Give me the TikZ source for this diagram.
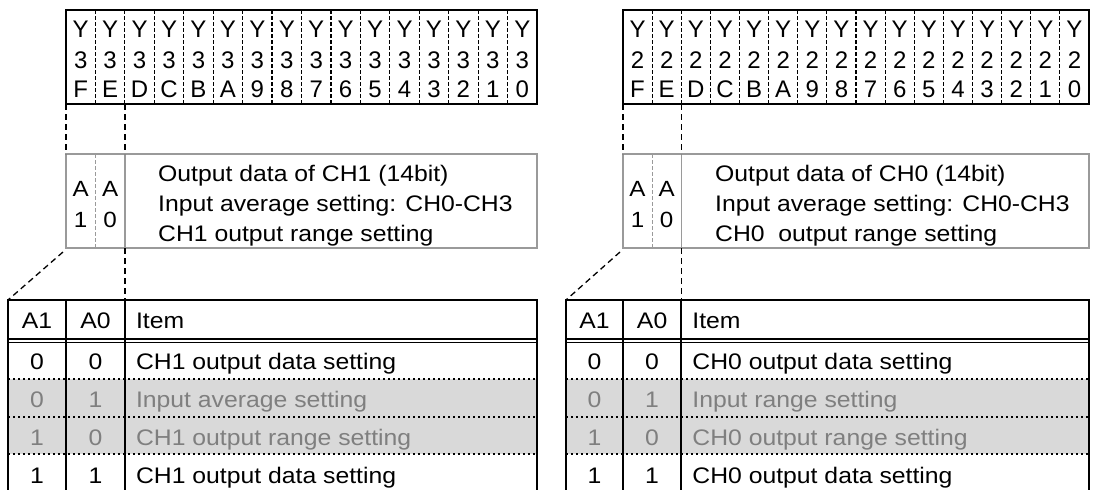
\documentclass[tikz,border=0pt]{standalone}
\usepackage{fontspec}
\setmainfont{Liberation Sans}
\newfontfamily\widefont[FakeStretch=1.1]{Liberation Sans}
\usetikzlibrary{calc}
\definecolor{boxgray}{HTML}{9A9A9A}
\definecolor{rowgray}{HTML}{D9D9D9}
\definecolor{txtgray}{HTML}{7F7F7F}
\tikzset{
  topbox/.style={draw=black, line width=1.8pt, inner sep=0pt, outer sep=0pt},
  midbox/.style={draw=boxgray, line width=1.8pt, inner sep=0pt, outer sep=0pt},
  tabframe/.style={inner sep=0pt, outer sep=0pt},
  tabline/.style={draw=black, line width=1.6pt},
  dotline/.style={draw=black, line width=1.5pt, dash pattern=on 1.5pt off 3.5pt},
  conn/.style={draw=black, line width=1.3pt, dash pattern=on 6pt off 4pt},
  bitsep/.style={draw=black, line width=1.2pt, dash pattern=on 3.5pt off 2.5pt},
  midsep/.style={draw=boxgray, line width=1.2pt, dash pattern=on 3.5pt off 2.5pt},
  bittxt/.style={inner sep=0pt, anchor=base, font=\fontsize{24}{28}\selectfont},
  atxt/.style={inner sep=0pt, anchor=base, font=\widefont\fontsize{22}{26}\selectfont},
  midtxt/.style={inner sep=0pt, anchor=base west, font=\widefont\fontsize{22.5}{27}\selectfont},
  celltxt/.style={inner sep=0pt, anchor=base, font=\widefont\fontsize{22.5}{27}\selectfont},
  itemtxt/.style={inner sep=0pt, anchor=base west, font=\widefont\fontsize{22.5}{27}\selectfont},
}
% #1 prefix, #2 top-left x, #3 right x, #4 table left x, #5 digit, #6 channel,
% #7 gray row 2 text, #8 middle line 3
\newcommand\halfdiag[8]{%
\pgfmathsetmacro\hdcw{(#3-#2)/16}%
\pgfmathsetmacro\hdtw{#3-#2}%
\pgfmathsetmacro\hdtabw{#3-#4}%
\pgfmathsetmacro\hdxa{#2+\hdcw}%
\pgfmathsetmacro\hdxb{#2+2*\hdcw}%
\pgfmathsetmacro\hdca{(#4+#2)/2}%
\pgfmathsetmacro\hdcb{(#2+\hdxb)/2}%
\pgfmathsetmacro\hdma{#2+\hdcw/2}%
\pgfmathsetmacro\hdmb{#2+1.5*\hdcw}%
\pgfmathsetmacro\hditem{\hdxb+11}%
\pgfmathsetmacro\hdmtx{#2+92}%
% ---- top register box
\node[topbox, minimum width=\hdtw pt, minimum height=94pt, anchor=north west] (#1top) at (#2,10) {};
\foreach \k in {1,...,15}{%
  \pgfmathsetmacro\hdsx{#2+\k*\hdcw}%
  \draw[bitsep] (\hdsx,10) -- (\hdsx,104);
}
\foreach \d [count=\k from 0] in {F,E,D,C,B,A,9,8,7,6,5,4,3,2,1,0}{%
  \pgfmathsetmacro\hdcx{#2+(\k+0.5)*\hdcw}%
  \node[bittxt] (#1ya\k) at (\hdcx,37) {Y};
  \node[bittxt] (#1yb\k) at (\hdcx,68) {#5};
  \node[bittxt] (#1yc\k) at (\hdcx,97) {\d};
}
% ---- middle box
\node[midbox, minimum width=\hdtw pt, minimum height=94pt, anchor=north west] (#1mid) at (#2,154) {};
\draw[midsep] (\hdxa,154) -- (\hdxa,248);
\draw[draw=boxgray, line width=1.5pt] (\hdxb,154) -- (\hdxb,248);
\node[atxt] (#1mA1) at (\hdma,196) {A};
\node[atxt] (#1mA1n) at (\hdma,227) {1};
\node[atxt] (#1mA0) at (\hdmb,196) {A};
\node[atxt] (#1mA0n) at (\hdmb,227) {0};
\node[midtxt] (#1l1) at (\hdmtx,181) {Output data of #6 (14bit)};
\node[midtxt] (#1l2) at (\hdmtx,211) {Input average setting: CH0-CH3};
\node[midtxt] (#1l3) at (\hdmtx,241) {#8};
% ---- table
\node[tabframe, minimum width=\hdtabw pt, minimum height=190pt, anchor=north west] (#1tab) at (#4,300) {};
\fill[rowgray] (#4,379) rectangle (#3,454);
\draw[tabline] (#1tab.south west) -- (#1tab.north west) -- (#1tab.north east) -- (#1tab.south east);
\draw[tabline] (#2,300) -- (#2,490);
\draw[tabline] (\hdxb,300) -- (\hdxb,490);
\draw[black, line width=1.1pt] (#4,339) -- (#3,339);
\draw[black, line width=1.1pt] (#4,342.5) -- (#3,342.5);
\draw[dotline] (#4,379) -- (#3,379);
\draw[dotline] (#4,417) -- (#3,417);
\draw[dotline] (#4,454) -- (#3,454);
\node[celltxt] (#1h1) at (\hdca,328) {A1};
\node[celltxt] (#1h2) at (\hdcb,328) {A0};
\node[itemtxt] (#1h3) at (\hditem,328) {Item};
\node[celltxt] (#1r1a) at (\hdca,369) {0};
\node[celltxt] (#1r1b) at (\hdcb,369) {0};
\node[itemtxt] (#1r1c) at (\hditem,369) {#6 output data setting};
\node[celltxt, txtgray] (#1r2a) at (\hdca,407) {0};
\node[celltxt, txtgray] (#1r2b) at (\hdcb,407) {1};
\node[itemtxt, txtgray] (#1r2c) at (\hditem,407) {#7};
\node[celltxt, txtgray] (#1r3a) at (\hdca,445) {1};
\node[celltxt, txtgray] (#1r3b) at (\hdcb,445) {0};
\node[itemtxt, txtgray] (#1r3c) at (\hditem,445) {#6 output range setting};
\node[celltxt] (#1r4a) at (\hdca,483) {1};
\node[celltxt] (#1r4b) at (\hdcb,483) {1};
\node[itemtxt] (#1r4c) at (\hditem,483) {#6 output data setting};
% ---- connectors
\coordinate (#1topB) at (\hdxb,104);
\coordinate (#1midTB) at (\hdxb,154);
\coordinate (#1midBB) at (\hdxb,248);
\coordinate (#1tabB) at (\hdxb,300);
\draw[conn] (#1top.south west) -- (#1mid.north west);
\draw[conn] (#1topB) -- (#1midTB);
\draw[conn] (#1midBB) -- (#1tabB);
\draw[conn] ($(#1mid.south west)+(-3,4)$) -- (#1tab.north west);
}
\begin{document}
\begin{tikzpicture}[x=1pt,y=-1pt]
\useasboundingbox (0,0) rectangle (1093,490);
\fill[white] (0,0) rectangle (1093,490);
\halfdiag{L}{66}{537}{8}{3}{CH1}{Input average setting}{CH1 output range setting}
\halfdiag{R}{623}{1089}{566}{2}{CH0}{Input range setting}{CH0\ \ output range setting}
\end{tikzpicture}
\end{document}
